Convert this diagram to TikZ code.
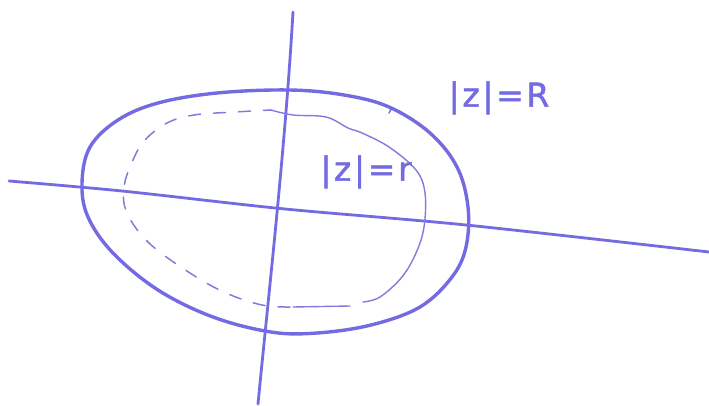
\documentclass[tikz,border=0pt]{standalone}
\usepackage{fontspec}
\newfontfamily\handfont[LetterSpace=8,FakeBold=1.5]{DejaVu Sans}
\definecolor{ink}{RGB}{116,106,226}
\definecolor{inklight}{RGB}{130,122,220}
\tikzset{
  axisline/.style={draw=ink, line width=2.8pt, line cap=round},
  outerline/.style={draw=ink, line width=3.4pt, line cap=round, line join=round},
  innersolid/.style={draw=inklight, line width=1.4pt, line cap=round},
  innerdashed/.style={draw=inklight, line width=1.5pt, line cap=round, dash pattern=on 12pt off 13pt},
  labeltext/.style={text=ink, font=\handfont\fontsize{33}{34}\selectfont, inner sep=0pt}
}
\begin{document}
\begin{tikzpicture}[x=1pt, y=-1pt]
\useasboundingbox (0,0) rectangle (709,406);
% axes
\coordinate (vtop) at (293,12);
\coordinate (vbot) at (258,404);
\coordinate (hleft) at (9,181);
\coordinate (hright) at (709,252);
\draw[axisline] (vtop) .. controls (285,150) and (268,300) .. (vbot);
\draw[axisline] plot[smooth, tension=0.5] coordinates {(hleft) (122,191) (285,209) (466,225) (hright)};
% outer curve |z|=R
\draw[outerline] plot[smooth cycle, tension=0.6] coordinates {
  (289,90) (344,95) (389,107) (430,133) (457,167) (468,207) (466,247) (452,277)
  (420,307) (371,325) (317,333) (271,332) (213,317) (158,290) (113,253) (88,217)
  (82,183) (90,147) (118,120) (158,103) (217,93)};
\draw[ink, line width=1.4pt, line cap=round] (384,105) .. controls (392,108) .. (389,113);
% inner curve |z|=r : solid right part
\draw[innersolid] plot[smooth, tension=0.6] coordinates {
  (271,110) (293,115) (326,117) (348,128) (362,133) (389,147) (416,170) (425,193)
  (424,227) (416,253) (402,277) (380,297) (363,302)};
\draw[innersolid] (293,307) -- (350,306);
% inner curve dashed left part
\draw[innerdashed] plot[smooth, tension=0.6] coordinates {
  (290,307) (262,305) (226,293) (190,273) (149,243) (127,213) (124,187)
  (133,160) (145,140) (167,123) (194,115) (235,112) (271,110)};
% labels
\node[labeltext] (bigR) at (499,98) {|z|=R};
\node[labeltext] (smallr) at (366,172) {|z|=r};
\end{tikzpicture}
\end{document}
